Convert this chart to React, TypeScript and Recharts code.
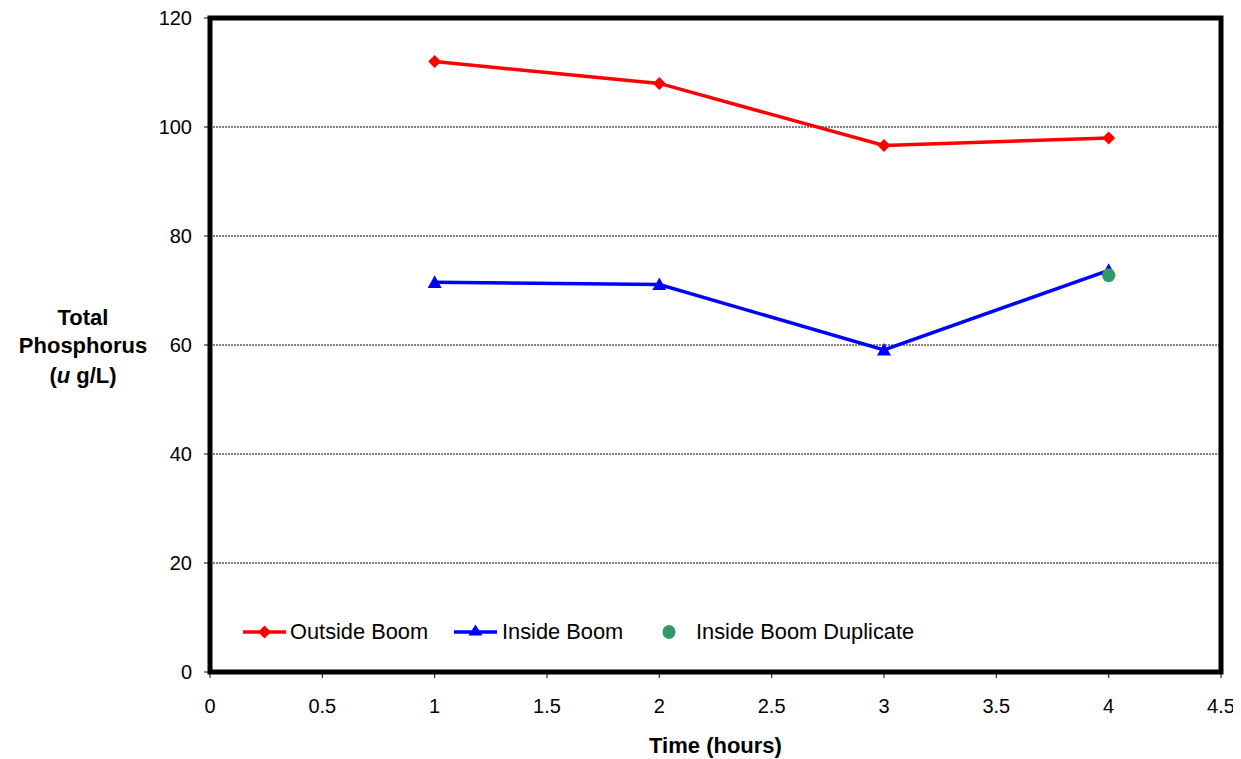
import React from "react";
import { LineChart, Line, XAxis, YAxis, CartesianGrid, ReferenceArea } from "recharts";

const times = [1, 2, 3, 4];
const outsideBoom = [112, 108, 96.6, 98.0];
const insideBoom = [71.5, 71.1, 59.1, 73.7];
const duplicateTime = 4;
const insideBoomDuplicate = 72.8;
const xTicks = [0, 0.5, 1, 1.5, 2, 2.5, 3, 3.5, 4, 4.5];
const yTicks = [0, 20, 40, 60, 80, 100, 120];
const seriesNames = ["Outside Boom", "Inside Boom", "Inside Boom Duplicate"];

const data = times.map((t, i) => ({
  t,
  outside: outsideBoom[i],
  inside: insideBoom[i],
  dup: t === duplicateTime ? insideBoomDuplicate : null,
}));

const FONT = "'Liberation Sans', Arial, sans-serif";

const Diamond = (props: any) => {
  const { cx, cy, index } = props;
  if (cx == null || cy == null) return <g key={"d" + index} />;
  const s = 6.5;
  return (
    <path key={"d" + index} d={`M${cx},${cy - s}L${cx + s},${cy}L${cx},${cy + s}L${cx - s},${cy}Z`} fill="#ff0000" />
  );
};

const Triangle = (props: any) => {
  const { cx, cy, index } = props;
  if (cx == null || cy == null) return <g key={"t" + index} />;
  const s = 7;
  return (
    <path key={"t" + index} d={`M${cx},${cy - s}L${cx + s},${cy + s * 0.8}L${cx - s},${cy + s * 0.8}Z`} fill="#0000ff" />
  );
};

const Circle = (props: any) => {
  const { cx, cy, index } = props;
  if (cx == null || cy == null) return <g key={"c" + index} />;
  return <ellipse key={"c" + index} cx={cx} cy={cy} rx={6.5} ry={7} fill="#339966" />;
};

const YLabel = (props: any) => {
  const vb = props.viewBox || {};
  const cy = vb.y + vb.height / 2;
  const x = 75;
  return (
    <text textAnchor="middle" fontFamily={FONT} fontWeight="bold" fontSize={22} fill="#000">
      <tspan x={x} y={cy - 20}>Total</tspan>
      <tspan x={x} y={cy + 8}>Phosphorus</tspan>
      <tspan x={x} y={cy + 38}>(<tspan fontStyle="italic">u</tspan> g/L)</tspan>
    </text>
  );
};

const XLabel = (props: any) => {
  const vb = props.viewBox || {};
  return (
    <text x={vb.x + vb.width / 2} y={745} textAnchor="middle" fontFamily={FONT} fontWeight="bold" fontSize={22} fill="#000">
      Time (hours)
    </text>
  );
};

const abs = (left: number, top: number): React.CSSProperties => ({ position: "absolute", left, top, lineHeight: 1 });

const LegendBox = () => {
  const cy = 624;
  const txt: React.CSSProperties = { fontFamily: FONT, fontSize: 21.8, color: "#000", whiteSpace: "nowrap" };
  return (
    <>
      <svg style={abs(234, cy - 10)} width={46} height={20}>
        <line x1={1} y1={10} x2={44} y2={10} stroke="#ff0000" strokeWidth={3.5} />
        <path d="M22.5,3.5L29,10L22.5,16.5L16,10Z" fill="#ff0000" />
      </svg>
      <div style={{ ...abs(282, cy - 11), ...txt }}>{seriesNames[0]}</div>
      <svg style={abs(445, cy - 10)} width={46} height={20}>
        <line x1={1} y1={10} x2={44} y2={10} stroke="#0000ff" strokeWidth={3.5} />
        <path d="M22.5,2.5L29.5,13.5L15.5,13.5Z" fill="#0000ff" />
      </svg>
      <div style={{ ...abs(494, cy - 11), ...txt }}>{seriesNames[1]}</div>
      <svg style={abs(651, cy - 10)} width={20} height={20}>
        <ellipse cx={10} cy={10} rx={6.5} ry={7} fill="#339966" />
      </svg>
      <div style={{ ...abs(688, cy - 11), ...txt }}>{seriesNames[2]}</div>
    </>
  );
};

export default function App() {
  return (
    <div style={{ position: "relative", width: 1233, height: 751 }}>
      <LineChart
        width={1233}
        height={751}
        data={data}
        margin={{ top: 10, right: 20, bottom: 0, left: 0 }}
      >
        <CartesianGrid horizontal vertical={false} stroke="#000" strokeDasharray="2 1" strokeWidth={1} />
        <XAxis
          type="number"
          dataKey="t"
          domain={[0, 4.5]}
          ticks={xTicks}
          interval={0}
          height={87}
          axisLine={false}
          tickLine={{ stroke: "#000", strokeWidth: 1 }}
          tickSize={6}
          tickMargin={21}
          tick={{ fill: "#000", fontFamily: FONT, fontSize: 20 }}
          label={<XLabel />}
        />
        <YAxis
          type="number"
          domain={[0, 120]}
          ticks={yTicks}
          interval={0}
          width={202}
          axisLine={false}
          tickLine={{ stroke: "#000", strokeWidth: 1 }}
          tickSize={6}
          tickMargin={12}
          tick={{ fill: "#000", fontFamily: FONT, fontSize: 20 }}
          label={<YLabel />}
        />
        <ReferenceArea
          x1={0}
          x2={4.5}
          y1={0}
          y2={120}
          fill="none"
          fillOpacity={0}
          stroke="#000"
          strokeWidth={5}
          ifOverflow="visible"
        />
        <Line
          name={seriesNames[0]}
          dataKey="outside"
          stroke="#ff0000"
          strokeWidth={3.5}
          dot={<Diamond />}
          activeDot={false}
          isAnimationActive={false}
        />
        <Line
          name={seriesNames[1]}
          dataKey="inside"
          stroke="#0000ff"
          strokeWidth={3.5}
          dot={<Triangle />}
          activeDot={false}
          isAnimationActive={false}
        />
        <Line
          name={seriesNames[2]}
          dataKey="dup"
          stroke="none"
          dot={<Circle />}
          activeDot={false}
          isAnimationActive={false}
        />
      </LineChart>
      <LegendBox />
    </div>
  );
}
